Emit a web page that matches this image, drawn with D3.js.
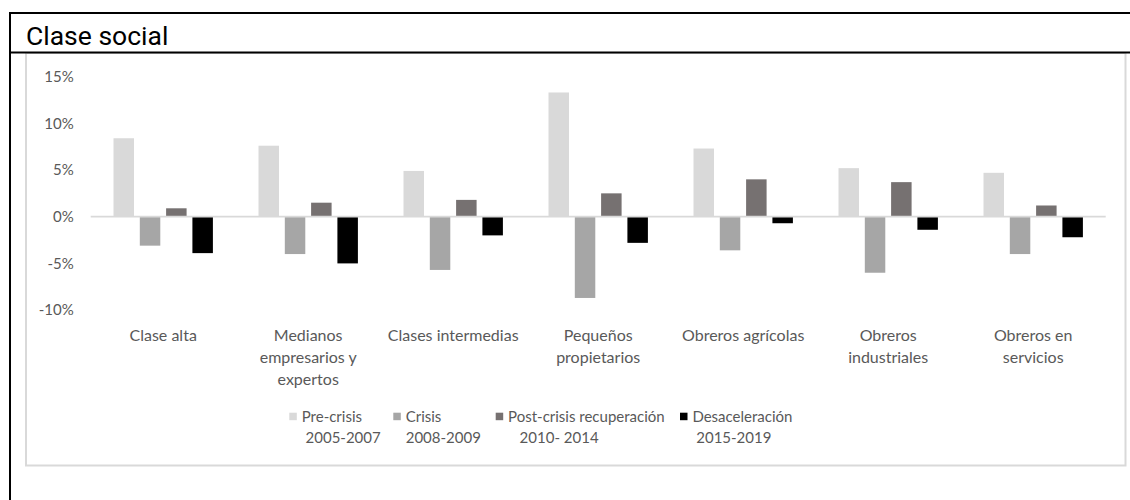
<!DOCTYPE html>
<html lang="es">
<head>
<meta charset="utf-8">
<title>Clase social</title>
<script src="https://cdn.jsdelivr.net/npm/d3@7"></script>
<style>
  html, body { margin: 0; padding: 0; background: #fff; }
  svg { display: block; }
  text { font-family: Lato, "Open Sans", sans-serif; }
</style>
</head>
<body>
<svg id="chart" width="1130" height="500"></svg>
<script>
// Categories (line breaks mark where each label wraps)
const categories = [
  "Clase alta",
  "Medianos\nempresarios y\nexpertos",
  "Clases intermedias",
  "Pequeños\npropietarios",
  "Obreros agrícolas",
  "Obreros\nindustriales",
  "Obreros en\nservicios"
];

// Variation (%) by period
const preCrisis      = [8.4, 7.6, 4.9, 13.3, 7.3, 5.2, 4.7];
const crisis         = [-3.1, -4.0, -5.7, -8.7, -3.6, -6.0, -4.0];
const postCrisis     = [0.9, 1.5, 1.8, 2.5, 4.0, 3.7, 1.2];
const desaceleracion = [-3.9, -5.0, -2.0, -2.8, -0.7, -1.4, -2.2];

const seriesNames = [
  "Pre-crisis\n 2005-2007",
  "Crisis\n2008-2009",
  "Post-crisis recuperación\n   2010- 2014",
  "Desaceleración\n 2015-2019"
];
const seriesColors = ["#d9d9d9", "#a6a6a6", "#767171", "#000000"];
const yTicks = [-10, -5, 0, 5, 10, 15];

const seriesValues = [preCrisis, crisis, postCrisis, desaceleracion];

const svg = d3.select("#chart");

// Outer frame: black rules for the title block
svg.append("line").attr("x1", 10).attr("x2", 1130).attr("y1", 13).attr("y2", 13)
  .attr("stroke", "#000").attr("stroke-width", 2);
svg.append("line").attr("x1", 10).attr("x2", 10).attr("y1", 12).attr("y2", 500)
  .attr("stroke", "#000").attr("stroke-width", 2);

// Chart area border
svg.append("rect").attr("x", 26).attr("y", 53).attr("width", 1099.5).attr("height", 412.5)
  .attr("fill", "#fff").attr("stroke", "#d9d9d9").attr("stroke-width", 2);

svg.append("line").attr("x1", 10).attr("x2", 1130).attr("y1", 52.5).attr("y2", 52.5)
  .attr("stroke", "#000").attr("stroke-width", 2);

svg.append("text").attr("x", 26).attr("y", 45)
  .style("font-family", "Roboto, 'Noto Sans', sans-serif")
  .style("font-size", "26.5px").attr("fill", "#000")
  .text("Clase social");

// Scales
const x = d3.scaleBand().domain(categories).range([90.7, 1105.7]).paddingInner(0).paddingOuter(0);
const x1 = d3.scaleBand().domain(d3.range(seriesNames.length)).range([0, x.bandwidth()])
  .paddingInner(0.221).paddingOuter(0.867);
const y = d3.scaleLinear().domain([-10, 15]).range([310.1, 76.6]);

// Y axis (labels only)
const yAxis = svg.append("g").attr("transform", `translate(${x.range()[0]},0)`)
  .call(d3.axisLeft(y).tickValues(yTicks).tickFormat(d => d + "%").tickSize(0).tickPadding(17));
yAxis.select(".domain").remove();
yAxis.selectAll("text")
  .style("font-family", "Lato, sans-serif")
  .style("font-size", "15px").attr("fill", "#595959");

// Bars
const groups = svg.append("g").selectAll("g")
  .data(categories)
  .join("g")
  .attr("transform", d => `translate(${x(d)},0)`);

groups.selectAll("rect")
  .data((d, i) => seriesValues.map((vals, s) => ({ s, v: vals[i] })))
  .join("rect")
  .attr("x", d => x1(d.s))
  .attr("width", x1.bandwidth())
  .attr("y", d => y(Math.max(0, d.v)))
  .attr("height", d => Math.abs(y(d.v) - y(0)))
  .attr("fill", d => seriesColors[d.s]);

// Zero line (category axis)
svg.append("line")
  .attr("x1", x.range()[0]).attr("x2", x.range()[1])
  .attr("y1", y(0)).attr("y2", y(0))
  .attr("stroke", "#d9d9d9").attr("stroke-width", 1.75);

// Category labels
const catLabels = svg.append("g").selectAll("text")
  .data(categories)
  .join("text")
  .attr("text-anchor", "middle")
  .attr("x", d => x(d) + x.bandwidth() / 2)
  .attr("y", 340.5)
  .style("font-size", "16px")
  .attr("fill", "#595959");
catLabels.selectAll("tspan")
  .data(d => d.split("\n"))
  .join("tspan")
  .attr("x", function () { return d3.select(this.parentNode).attr("x"); })
  .attr("dy", (d, i) => i === 0 ? 0 : 22)
  .text(d => d);

// Legend: entries laid out left to right
const legendX = [289.3, 393.3, 495.7, 680];
const legend = svg.append("g");
seriesNames.forEach((name, s) => {
  const item = legend.append("g").attr("transform", `translate(${legendX[s]},0)`);
  item.append("rect").attr("x", 0).attr("y", 412.7).attr("width", 7.5).attr("height", 7.5)
    .attr("fill", seriesColors[s]);
  const t = item.append("text").attr("x", 12.4).attr("y", 421.5)
    .style("font-size", "15px").style("white-space", "pre")
    .attr("fill", "#595959");
  t.selectAll("tspan").data(name.split("\n")).join("tspan")
    .attr("x", 12.4).attr("dy", (d, i) => i === 0 ? 0 : 21.5)
    .text(d => d);
});
</script>
</body>
</html>
